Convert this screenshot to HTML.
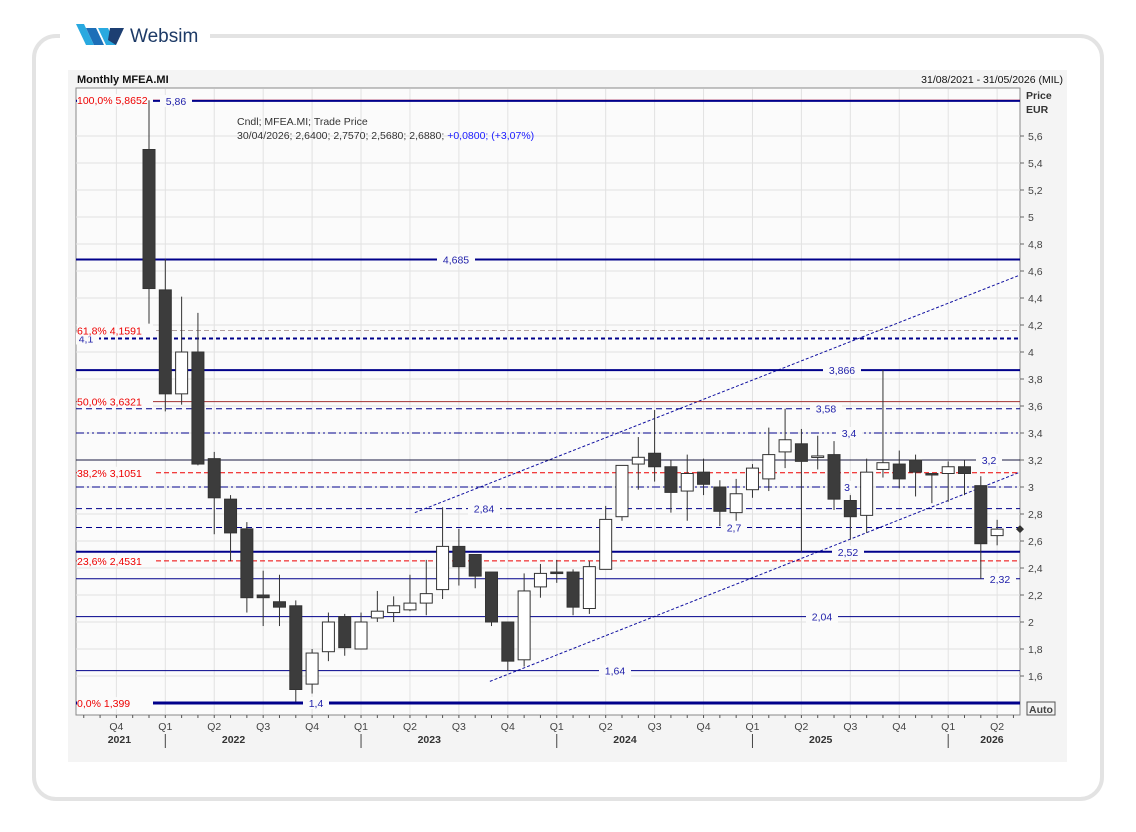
<!DOCTYPE html>
<html><head><meta charset="utf-8">
<style>
body{margin:0;background:#fff;font-family:"Liberation Sans",sans-serif;}
#wrap{position:relative;width:1136px;height:832px;overflow:hidden;background:#fff;}
</style></head>
<body>
<div id="wrap">
<svg id="svg" width="1136" height="832" xmlns="http://www.w3.org/2000/svg" style="position:absolute;left:0;top:0">
  <defs><clipPath id="pc"><rect x="76" y="88" width="944" height="627"/></clipPath></defs>
  <rect x="34" y="36" width="1068" height="763" rx="22" fill="#fff" stroke="#e3e3e3" stroke-width="4"/>
  <rect x="60" y="26" width="150" height="24" fill="#fff"/>
  <g>
    <polygon points="76,24 84,24 94,45 86,45" fill="#29a9e0"/>
    <polygon points="86,28 96,28 104,45 94,45" fill="#1d6fb8"/>
    <polygon points="98,28 108,28 116,45 106,45" fill="#29a9e0"/>
    <polygon points="110,28 124,28 116,45 108,40" fill="#1d3f72"/>
    <text x="130" y="42" font-size="19" fill="#1d3a66">Websim</text>
  </g>
  <rect x="68" y="70" width="999" height="692" fill="#f4f4f4"/>
  <text x="77" y="83" font-size="11" font-weight="bold" fill="#111">Monthly MFEA.MI</text>
  <text x="1063" y="83" font-size="10.5" fill="#111" text-anchor="end">31/08/2021 - 31/05/2026 (MIL)</text>
  <rect x="76" y="88" width="944" height="627" fill="#fbfbfb" stroke="#888"/>
  <g id="grid"></g>
  <g id="levels" clip-path="url(#pc)"></g>
  <g id="candles"></g>
  <g id="axes"></g>
  <text x="237" y="125" font-size="10.5" fill="#333">Cndl; MFEA.MI; Trade Price</text>
  <text x="237" y="139" font-size="10.5" fill="#333">30/04/2026; 2,6400; 2,7570; 2,5680; 2,6880; <tspan fill="#1a1aff">+0,0800; (+3,07%)</tspan></text>
  <text x="1026" y="99" font-size="10.5" font-weight="bold" fill="#333">Price</text>
  <text x="1026" y="113" font-size="10.5" font-weight="bold" fill="#333">EUR</text>
  <g><rect x="1027" y="702" width="28" height="13" fill="#f4f4f4" stroke="#555"/><text x="1029" y="713" font-size="10.5" font-weight="bold" fill="#444">Auto</text></g>
</svg>
</div>
<script>
const opens  =[5.50,4.46,3.69,4.00,3.21,2.91,2.69,2.20,2.15,2.12,1.54,1.78,2.04,1.80,2.03,2.07,2.09,2.14,2.24,2.56,2.50,2.37,2.00,1.72,2.26,2.37,2.37,2.10,2.39,2.78,3.17,3.25,3.15,2.97,3.11,3.00,2.81,2.98,3.06,3.26,3.32,3.23,3.24,2.90,2.79,3.13,3.17,3.20,3.10,3.10,3.15,3.01,2.64];
const highs  =[5.8652,4.69,4.41,4.29,3.26,2.94,2.74,2.38,2.35,2.16,1.80,2.07,2.06,2.07,2.23,2.19,2.35,2.46,2.85,2.69,2.50,2.37,2.00,2.36,2.43,2.46,2.39,2.45,2.86,3.16,3.37,3.57,3.20,3.24,3.21,3.05,3.06,3.17,3.44,3.58,3.43,3.38,3.34,2.94,3.21,3.866,3.27,3.24,3.10,3.19,3.20,3.08,2.757];
const lows   =[4.21,3.56,3.61,3.16,2.65,2.45,2.07,1.97,1.97,1.41,1.47,1.71,1.75,1.80,2.00,2.00,2.08,2.05,2.17,2.27,2.25,1.97,1.64,1.67,2.18,2.29,2.05,2.06,2.39,2.75,2.98,3.04,2.81,2.75,2.94,2.71,2.75,2.92,2.97,3.14,2.52,3.13,2.83,2.61,2.66,3.07,2.99,2.93,2.88,2.89,2.94,2.32,2.568];
const closes =[4.47,3.69,4.00,3.17,2.92,2.66,2.18,2.18,2.11,1.50,1.77,2.00,1.81,2.00,2.08,2.12,2.14,2.21,2.56,2.41,2.34,2.00,1.71,2.23,2.36,2.36,2.11,2.41,2.76,3.16,3.22,3.15,2.96,3.10,3.02,2.82,2.95,3.14,3.24,3.35,3.19,3.23,2.91,2.78,3.11,3.18,3.06,3.11,3.09,3.15,3.10,2.58,2.688];
const yTicks =[5.6,5.4,5.2,5.0,4.8,4.6,4.4,4.2,4.0,3.8,3.6,3.4,3.2,3.0,2.8,2.6,2.4,2.2,2.0,1.8,1.6];
const levelValues=[5.86,4.685,4.1,3.866,3.58,3.4,3.2,3.0,2.84,2.7,2.52,2.32,2.04,1.64,1.4];
const levelLabels=["5,86","4,685","4,1","3,866","3,58","3,4","3,2","3","2,84","2,7","2,52","2,32","2,04","1,64","1,4"];
const fibValues=[5.8652,4.1591,3.6321,3.1051,2.4531,1.399];
const fibLabels=["100,0%","61,8%","50,0%","38,2%","23,6%","0,0%"];
const fibPrices=["5,8652","4,1591","3,6321","3,1051","2,4531","1,399"];
const quarterLabels=["Q4","Q1","Q2","Q3","Q4","Q1","Q2","Q3","Q4","Q1","Q2","Q3","Q4","Q1","Q2","Q3","Q4","Q1","Q2"];
const yearLabels=["2021","2022","2023","2024","2025","2026"];
const channelUpper=[[16.3,2.81],[53.4,4.57]];
const channelLower=[[20.9,1.56],[53.4,3.11]];

const NS="http://www.w3.org/2000/svg";
function y(v){return 676-(v-1.6)*135;}
function x(i){return 149+i*16.31;} // i = months from Dec 2021
function mk(tag,attrs,parent){const e=document.createElementNS(NS,tag);for(const k in attrs)e.setAttribute(k,attrs[k]);document.getElementById(parent).appendChild(e);return e;}
const L=76,R=1020;
for(const t of yTicks){const g=mk('line',{x1:L,x2:R,y1:y(t),y2:y(t),stroke:'#e2e2e2'},'grid');

}
for(let q=0;q<quarterLabels.length;q++){const xx=x(-2+q*3);const g=mk('line',{x1:xx,x2:xx,y1:89,y2:714,stroke:'#e2e2e2'},'grid');

}
// channel
[channelUpper,channelLower].forEach(c=>{const l=mk('line',{x1:x(c[0][0]),y1:y(c[0][1]),x2:x(c[1][0]),y2:y(c[1][1]),stroke:'#1010a0','stroke-width':1,'stroke-dasharray':'3,2'},'levels');

});
// fib lines
const fibStyles=['none','5,3','none','5,3','5,3','none'];
fibValues.forEach((v,i)=>{const l=mk('line',{x1:L,x2:R,y1:y(v),y2:y(v),stroke:i==1?'#b0a0a0':(i==2?'#a03030':'#e00'),'stroke-width':1,'stroke-dasharray':fibStyles[i]},'levels');

});
// levels
const lvStyle={5.86:[2,'none',176],4.685:[2,'none',456],4.1:[2,'4,3',86],3.866:[2,'none',842],3.58:[1,'6,4',826],3.4:[1,'8,3,2,3,2,3',849],3.2:[1,'none',989],3.0:[1,'8,3,2,3',847],2.84:[1,'6,4',484],2.7:[1,'6,4',734],2.52:[2,'none',848],2.32:[1,'none',1000],2.04:[1,'none',822],1.64:[1,'none',615],1.4:[3,'none',316]};
levelValues.forEach((v,i)=>{const s=lvStyle[v];const l=mk('line',{x1:L,x2:R,y1:y(v),y2:y(v),stroke:v==3.2?'#1a1a40':'#00008b','stroke-width':s[0],'stroke-dasharray':s[1]},'levels');


const w=levelLabels[i].length*6+8;mk('rect',{x:s[2]-w/2,y:y(v)-6,width:w,height:12,fill:'#fbfbfb'},'levels');
const t=mk('text',{x:s[2],y:y(v)+4,'font-size':10.5,fill:'#2222aa','text-anchor':'middle'},'levels');t.textContent=levelLabels[i];

});
fibValues.forEach((v,i)=>{
mk('rect',{x:77,y:y(v)-6,width:76,height:12,fill:'#fbfbfb'},'levels');
const t=mk('text',{x:77,y:y(v)+4,'font-size':10.5,fill:'#e00'},'levels');t.textContent=fibLabels[i]+'  '+fibPrices[i];

});
// candles
for(let i=0;i<opens.length;i++){const cx=x(i),o=opens[i],c=closes[i],up=c>=o;
const w=mk('line',{x1:cx,x2:cx,y1:y(highs[i]),y2:y(lows[i]),stroke:'#333','stroke-width':1},'candles');


const top=y(Math.max(o,c)),h=Math.max(1.5,Math.abs(y(o)-y(c)));
const b=mk('rect',{x:cx-6,y:top,width:12,height:h,fill:up?'#fff':'#3c3c3c',stroke:'#333','stroke-width':1},'candles');

}
const last=closes[closes.length-1];
const d=mk('path',{d:`M1020,${y(last)-4} l4,4 l-4,4 l-4,-4z`,fill:'#333'},'candles');


for(const t of yTicks){mk('line',{x1:R,x2:R+4,y1:y(t),y2:y(t),stroke:'#666'},'axes');
const tx=mk('text',{x:R+8,y:y(t)+4,'font-size':10.5,fill:'#444'},'axes');tx.textContent=(Math.round(t*10)/10).toString().replace('.',',');

}
for(let m=-4;m<=53;m++){const xx=x(m);if(xx<L||xx>R)continue;mk('line',{x1:xx,x2:xx,y1:715,y2:718,stroke:'#555'},'axes');}
quarterLabels.forEach((q,k)=>{const xx=x(-2+k*3);const t=mk('text',{x:xx,y:730,'font-size':10.5,fill:'#444','text-anchor':'middle'},'axes');t.textContent=q;


if(q==='Q1')mk('line',{x1:xx,x2:xx,y1:734,y2:748,stroke:'#444'},'axes');});
const yearPos=[-2,5,17,29,41,51.5];
yearLabels.forEach((yl,k)=>{const t=mk('text',{x:x(yearPos[k])+3,y:743,'font-size':10.5,'font-weight':'bold',fill:'#333','text-anchor':'middle'},'axes');t.textContent=yl;

});
</script>
</body></html>
